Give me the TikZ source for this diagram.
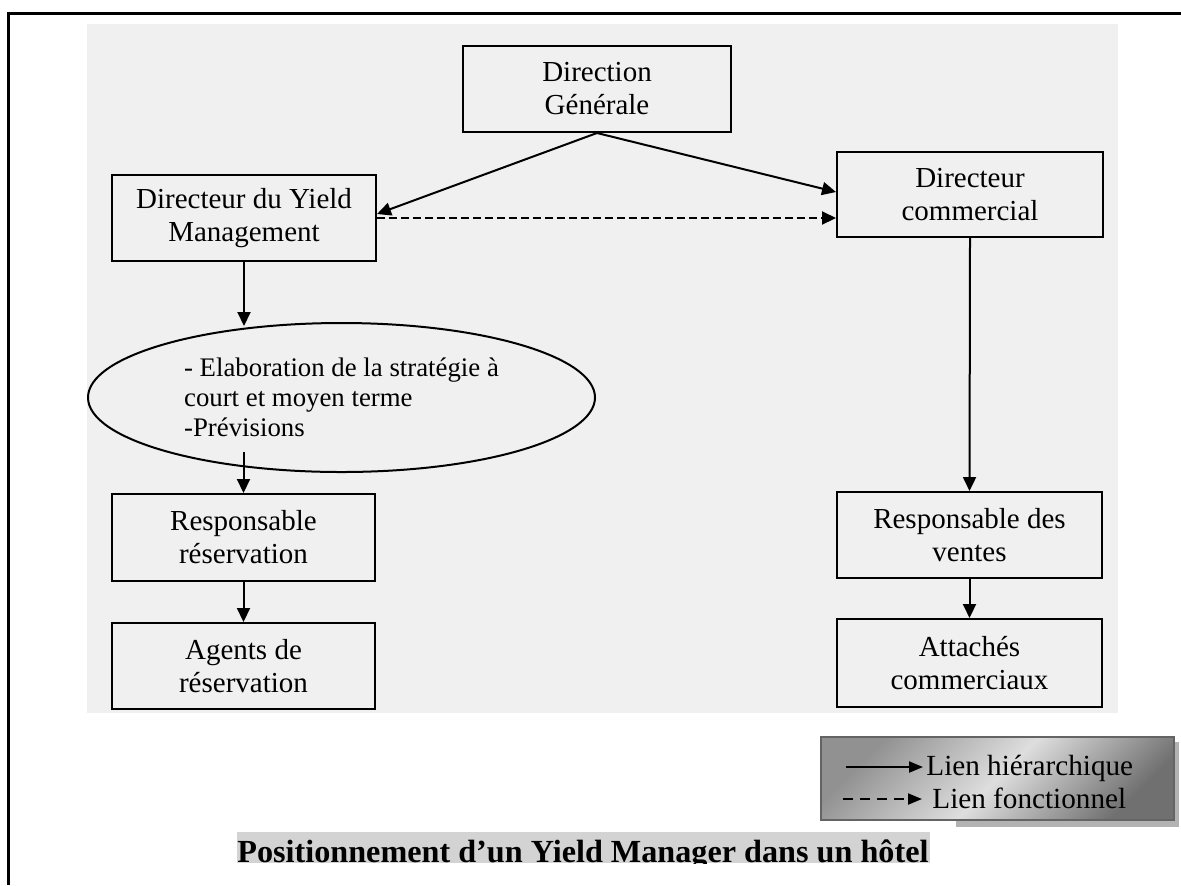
\documentclass[tikz,border=0pt]{standalone}
\usepackage{fontspec}
\setmainfont{Liberation Serif}
\usetikzlibrary{arrows.meta,shapes.geometric,calc}
\definecolor{scangrey}{RGB}{240,240,240}
\definecolor{titlegrey}{RGB}{211,211,211}
\definecolor{shadowgrey}{RGB}{178,178,178}
\definecolor{legleft}{RGB}{145,145,145}
\definecolor{legright}{RGB}{112,112,112}
\definecolor{leglight}{RGB}{222,222,222}
\definecolor{legline}{RGB}{100,100,100}
\begin{document}
\begin{tikzpicture}[x=0.5pt,y=-0.5pt,
  box/.style={draw=black, line width=1pt, rectangle, inner sep=0pt, align=center,
              font=\fontsize{14.5pt}{16.5pt}\selectfont},
  ellbox/.style={draw=black, line width=1pt, ellipse, inner sep=0pt, align=left,
              font=\fontsize{13.4pt}{15pt}\selectfont},
  arr/.style={line width=1pt, -{Triangle[length=7pt,width=6.5pt]}},
  darr/.style={line width=1pt, dash pattern=on 4pt off 2pt, -{Triangle[length=7pt,width=6.5pt]}},
  legarr/.style={line width=1pt, -{Triangle[length=7pt,width=5.5pt]}},
  legdarr/.style={line width=1pt, dash pattern=on 5pt off 3.5pt, -{Triangle[length=7pt,width=5.5pt]}},
  legtext/.style={anchor=base west, inner sep=0pt, font=\fontsize{14.6pt}{17pt}\selectfont}
]
\useasboundingbox (0,0) rectangle (1181,885);
% scanned area
\fill[scangrey] (87,24) rectangle (1118,713);
% frame
\draw[line width=1.5pt] (8,885) -- (8,13) -- (1181,13);

% boxes
\node[box, minimum width=134pt, minimum height=43pt] (dg) at (597,89) {Direction\\Générale};
\node[box, minimum width=132pt, minimum height=43pt] (yield) at (244,218) {Directeur du Yield\\Management};
\node[box, minimum width=133pt, minimum height=42.5pt] (com) at (970,194.5) {Directeur\\commercial};
\node[ellbox, minimum width=253.5pt, minimum height=74.5pt] (ell) at (341.5,397.5)
  {- Elaboration de la stratégie à\\court et moyen terme\\-Prévisions};
\node[box, minimum width=131.5pt, minimum height=43.5pt] (resa) at (243.5,537.5) {Responsable\\réservation};
\node[box, minimum width=131.5pt, minimum height=43pt] (agents) at (243.5,666) {Agents de\\réservation};
\node[box, minimum width=132.5pt, minimum height=43pt] (ventes) at (969.5,535) {Responsable des\\ventes};
\node[box, minimum width=132.5pt, minimum height=44pt] (attaches) at (969.5,663) {Attachés\\commerciaux};

% connectors
\draw[arr] (dg.south) -- ($(yield.east)+(0,-4)$);
\draw[arr] (dg.south) -- ($(com.west)+(0,-2.5)$);
\draw[darr] (yield.east) -- (yield.east -| com.west);
\draw[arr] (yield.south) -- ($(yield.south |- ell.north)+(0,4)$);
\coordinate (ellout) at (243.5,452);
\draw[arr] (ellout) -- (resa.north);
\draw[arr] (resa.south) -- (agents.north);
\draw[arr] (com.south) -- (ventes.north);
\draw[arr] (ventes.south) -- (attaches.north);

% legend
\fill[shadowgrey] (1174,742) rectangle (1179,827);
\fill[shadowgrey] (956,820) rectangle (1179,827);
\node[shade, left color=legleft, right color=legright, middle color=leglight,
      shading angle=45, draw=legline, line width=0.6pt, inner sep=0pt,
      minimum width=176.5pt, minimum height=41.5pt] (legbox) at (997.5,778.5) {};
\node[legtext] (t1) at (926,775) {Lien hiérarchique};
\node[legtext] (t2) at (932,808) {Lien fonctionnel};
\coordinate (l1) at (846,767);
\coordinate (l2) at (843,799);
\draw[legarr] (l1) -- ($(l1 -| t1.west)+(-3,0)$);
\draw[legdarr] (l2) -- ($(l2 -| t2.west)+(-10,0)$);

% title
\fill[titlegrey] (237,832) rectangle (930,863);
\begin{scope}
\clip (0,0) rectangle (1181,863);
\node[anchor=base west, inner sep=0pt, font=\bfseries\fontsize{16.1pt}{18pt}\selectfont] (title) at (237,862)
  {Positionnement d’un Yield Manager dans un hôtel};
\end{scope}
\end{tikzpicture}
\end{document}
